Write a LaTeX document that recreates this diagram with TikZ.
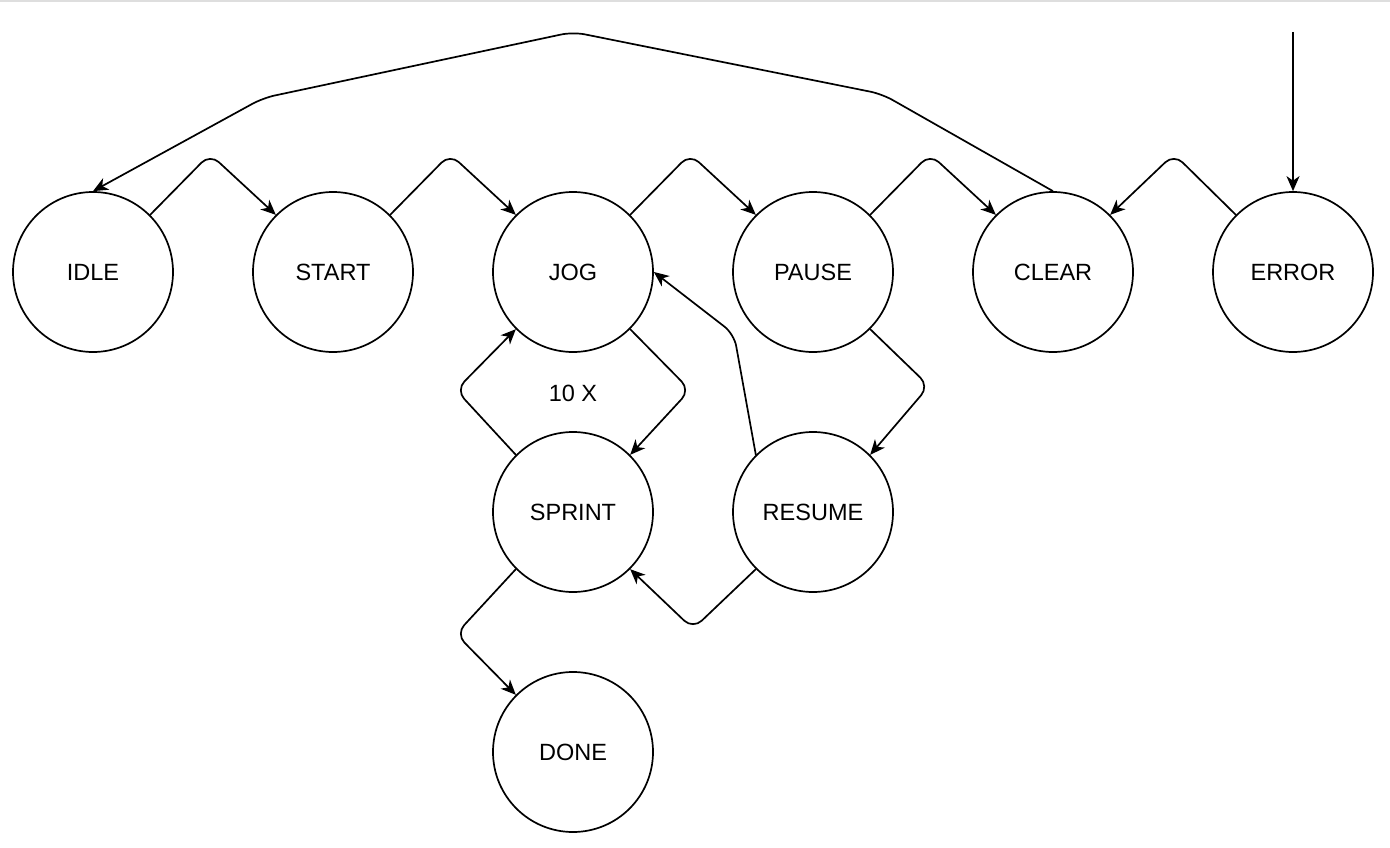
\documentclass[tikz,border=0pt]{standalone}
\usepackage{fontspec}
\setmainfont{Liberation Sans}
\usetikzlibrary{positioning,arrows.meta}
\begin{document}
\begin{tikzpicture}[x=1pt,y=-1pt,
    main/.style = {draw, circle, line width=1.7pt, minimum size=160pt, inner sep=0pt, font=\fontsize{23.5}{28}\selectfont},
    edge/.style = {line width=1.7pt, rounded corners=12pt, -{Stealth[length=15pt,width=13pt,inset=4.5pt]}},
    node distance=240pt, on grid]
    \useasboundingbox (0,0) rectangle (1390,848);
    \draw[line width=2pt, black!13] (0,1) -- (1390,1);
    \node[main] (idle) at (93,272) {IDLE};
    \node[main] (start) [right=of idle] {START};
    \node[main] (jog) [right=of start] {JOG};
    \node[main] (pause) [right=of jog] {PAUSE};
    \node[main] (clear) [right=of pause] {CLEAR};
    \node[main] (error) [right=of clear] {ERROR};
    \node[main] (sprint) [below=of jog] {SPRINT};
    \node[main] (resume) [below=of pause] {RESUME};
    \node[main] (done) [below=of sprint] {DONE};
    \node[font=\fontsize{23.5}{28}\selectfont] (reps) at (573,393) {10 X};
    \coordinate (errin) at (1293,32);
    \draw[edge] (idle.45) -- (210,154) -- (start.135);
    \draw[edge] (start.45) -- (450,154) -- (jog.135);
    \draw[edge] (jog.45) -- (690,154) -- (pause.135);
    \draw[edge] (pause.45) -- (930,154) -- (clear.135);
    \draw[edge] (error.135) -- (1174,154) -- (clear.45);
    \draw[edge] (errin) -- (error.north);
    \draw[edge] (clear.north) -- (882,94) -- (573,32) -- (263,98) -- (idle.north);
    \draw[edge] (jog.-45) -- (690,390) -- (sprint.45);
    \draw[edge] (sprint.135) -- (456,390) -- (jog.-135);
    \draw[edge] (pause.-45) -- (929,386) -- (resume.45);
    \draw[edge] (resume.135) -- (734,334) -- (jog.east);
    \draw[edge] (resume.-135) -- (693,629) -- (sprint.-45);
    \draw[edge] (sprint.-135) -- (456,634) -- (done.135);
\end{tikzpicture}
\end{document}
